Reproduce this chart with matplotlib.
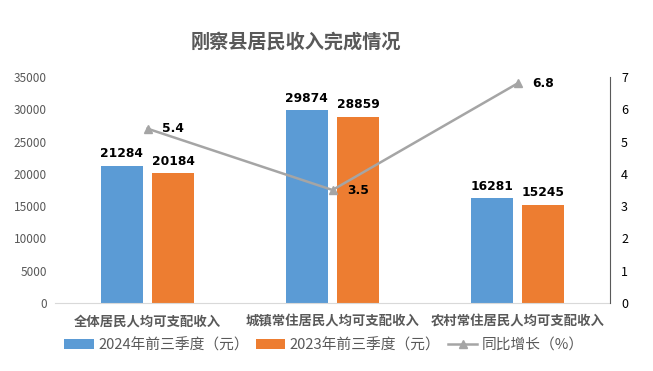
import matplotlib
matplotlib.use("Agg")
import matplotlib.pyplot as plt
import numpy as np

plt.rcParams['font.family'] = ['Noto Sans CJK SC', 'DejaVu Sans']

categories = ["全体居民人均可支配收入", "城镇常住居民人均可支配收入", "农村常住居民人均可支配收入"]
income_2024 = [21284, 29874, 16281]
income_2023 = [20184, 28859, 15245]
growth = [5.4, 3.5, 6.8]
series_names = ["2024年前三季度（元）", "2023年前三季度（元）", "同比增长（%）"]
title = "刚察县居民收入完成情况"

blue = "#5B9BD5"
orange = "#ED7D31"
gray_line = "#A5A5A5"
text_gray = "#595959"

fig = plt.figure(figsize=(6.53, 3.71), dpi=100)
ax = fig.add_axes([55/653, 1-303/371, (610-55)/653, (303-77)/371])
ax2 = ax.twinx()

x = np.arange(len(categories))
w = 0.227
off = 0.14
b1 = ax.bar(x - off, income_2024, w, color=blue, label=series_names[0], zorder=2)
b2 = ax.bar(x + off, income_2023, w, color=orange, label=series_names[1], zorder=2)
lab_font = dict(fontsize=8.8, fontweight='bold', color='black', family='DejaVu Sans')
for xi, v in zip(x - off, income_2024):
    ax.text(xi, v + 800, str(v), ha='center', va='bottom', **lab_font)
for xi, v in zip(x + off, income_2023):
    ax.text(xi, v + 800, str(v), ha='center', va='bottom', **lab_font)

ln, = ax2.plot(x, growth, color=gray_line, lw=1.8, marker='^', markersize=6, label=series_names[2], zorder=3)
for xi, v in zip(x, growth):
    ax2.text(xi + 0.08, v, f"{v}", ha='left', va='center', **lab_font)

ax.set_xlim(-0.5, 2.5)
ax.set_ylim(0, 35000)
ax.set_yticks(np.arange(0, 35001, 5000))
ax2.set_ylim(0, 7)
ax2.set_yticks(np.arange(0, 8, 1))

ax.set_xticks(x)
ax.set_xticklabels(categories, fontsize=9.6, fontweight='bold', color=text_gray)
ax.tick_params(axis='x', length=0, pad=8)
ax.tick_params(axis='y', length=0, labelsize=8.5, labelcolor=text_gray, pad=6)
ax2.tick_params(axis='y', length=0, labelsize=9, labelcolor='black', pad=8)

for s in ['top', 'left', 'right']:
    ax.spines[s].set_visible(False)
    ax2.spines[s].set_visible(False)
ax.spines['bottom'].set_color('#D9D9D9')
ax2.spines['bottom'].set_visible(False)
ax2.spines['right'].set_visible(True)
ax2.spines['right'].set_color('#595959')
ax2.spines['right'].set_linewidth(0.8)

fig.text(296/653, 1-42/371, title, ha='center', va='center', fontsize=13.8, fontweight='bold', color=text_gray)

leg = fig.legend([b1, b2, ln], series_names, loc='center', bbox_to_anchor=(324/653, 1-345/371),
                 ncol=3, frameon=False, fontsize=10.6, handlelength=2.0, handletextpad=0.3,
                 columnspacing=0.5, labelcolor=text_gray)

fig.savefig("out.png", dpi=100)
